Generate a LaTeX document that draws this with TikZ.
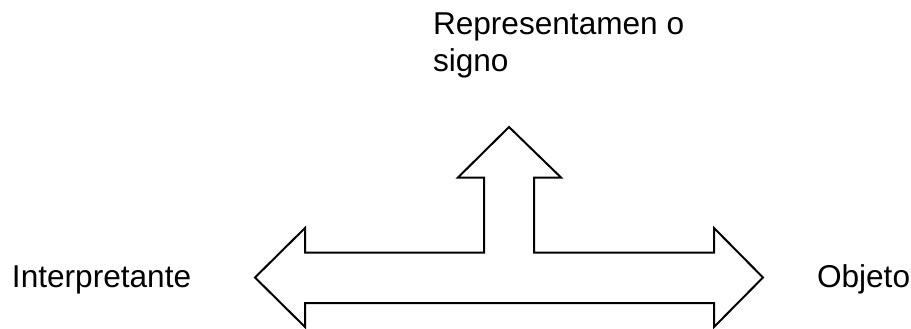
\documentclass[tikz,border=0pt]{standalone}
\usepackage{fontspec}
\setmainfont{Liberation Sans}
\begin{document}
\begin{tikzpicture}[x=1pt,y=-1pt,
  lbl/.style={inner sep=0pt,outer sep=0pt,anchor=base west,font=\fontsize{31.6}{37}\selectfont,align=left},
  arrowshape/.style={draw=black,line width=2pt,line join=miter,fill=white}]
\useasboundingbox (0,0) rectangle (911,329);
\draw[arrowshape] (255,277.5) -- (305,228) -- (305,252.5) -- (484,252.5) -- (484,177.5) -- (458,177.5)
  -- (509,127) -- (561,177.5) -- (534,177.5) -- (534,252.5) -- (714,252.5) -- (714,228)
  -- (763,277.5) -- (714,327) -- (714,303) -- (305,303) -- (305,327) -- cycle;
\node[lbl] (rep) at (433,72) {Representamen o\\signo};
\node[lbl] (int) at (12,287) {Interpretante};
\node[lbl] (obj) at (817,287) {Objeto};
\end{tikzpicture}
\end{document}
